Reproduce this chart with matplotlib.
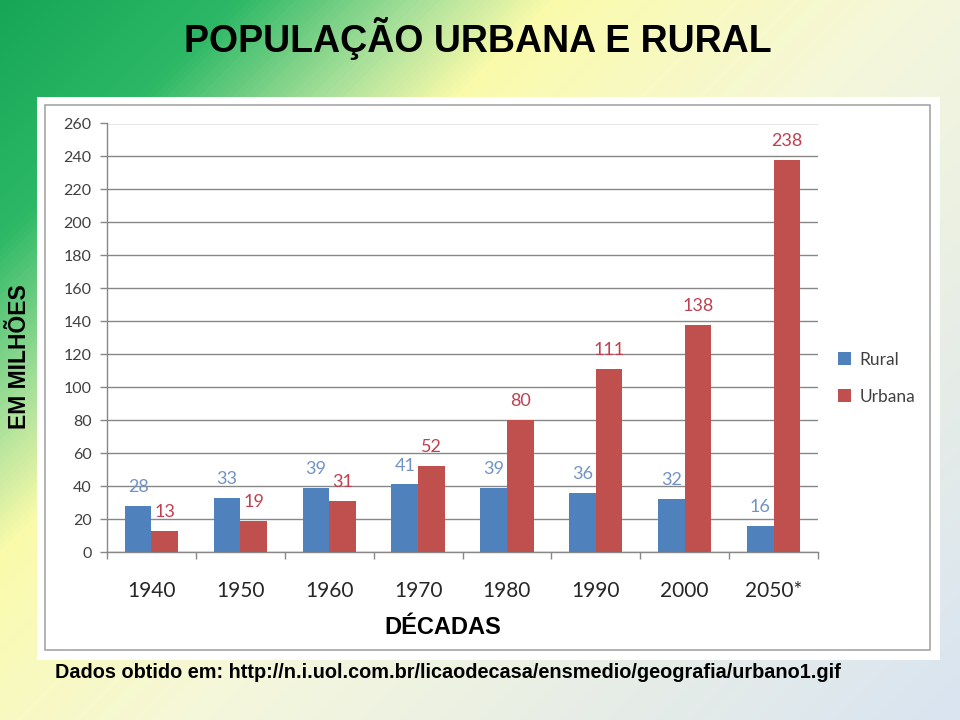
import numpy as np
import matplotlib
matplotlib.use('Agg')
import matplotlib.pyplot as plt
from matplotlib.colors import LinearSegmentedColormap
from matplotlib.patches import Rectangle
from matplotlib import font_manager

decades = ['1940', '1950', '1960', '1970', '1980', '1990', '2000', '2050*']
rural = [28, 33, 39, 41, 39, 36, 32, 16]
urbana = [13, 19, 31, 52, 80, 111, 138, 238]
yticks = list(range(0, 261, 20))

names = {f.name for f in font_manager.fontManager.ttflist}
chart_font = 'Lato' if 'Lato' in names else 'DejaVu Sans'

plt.rcParams['font.family'] = [chart_font, 'DejaVu Sans']

W, H = 960, 720
fig = plt.figure(figsize=(9.6, 7.2), dpi=100)

# background gradient
bg = fig.add_axes([0, 0, 1, 1], zorder=-10)
yy, xx = np.mgrid[0:H, 0:W]
s = (xx + yy) / (W + H)
cmap = LinearSegmentedColormap.from_list('bg', [
    (0.0, '#16a656'), (0.14, '#2cb866'), (0.25, '#a8e09a'),
    (0.33, '#fbfbab'), (0.55, '#f5f7dc'), (1.0, '#d9e4f1')])
bg.imshow(s, cmap=cmap, extent=(0, W, H, 0), aspect='auto', interpolation='bilinear')
bg.set_xlim(0, W)
bg.set_ylim(H, 0)
bg.axis('off')
bg.add_patch(Rectangle((37, 97), 903, 563, fc='white', ec='none'))
bg.add_patch(Rectangle((45, 105), 885, 545, fill=False, ec='#a6a6a6', lw=1.2))

# main chart
ax = fig.add_axes([107 / W, 1 - 552 / H, 711 / W, (552 - 123.5) / H])
ax.patch.set_alpha(0)
x = np.arange(len(decades)) + 0.5
bw = 0.3
b1 = ax.bar(x - bw / 2, rural, bw, color='#4f81bd', label='Rural', zorder=3)
b2 = ax.bar(x + bw / 2, urbana, bw, color='#c0504d', label='Urbana', zorder=3)

for xi, v in zip(x - bw / 2, rural):
    ax.annotate(str(v), (xi, v), xytext=(0, 10), textcoords='offset points',
                ha='center', va='baseline', fontsize=13, color='#7093c6')
for xi, v in zip(x + bw / 2, urbana):
    ax.annotate(str(v), (xi, v), xytext=(0, 10), textcoords='offset points',
                ha='center', va='baseline', fontsize=13, color='#c0404f')

ax.set_ylim(0, 260)
ax.set_yticks(yticks)
ax.set_xlim(0, len(decades))
ax.set_xticks(range(len(decades) + 1))
ax.set_xticklabels([])
ax.set_xticks(x, minor=True)
ax.set_xticklabels(decades, minor=True)
ax.yaxis.grid(True, color='#878787', lw=1.0)
ax.set_axisbelow(True)
for sp in ['top', 'right']:
    ax.spines[sp].set_visible(False)
for sp in ['left', 'bottom']:
    ax.spines[sp].set_color('#878787')
    ax.spines[sp].set_linewidth(1.0)
ax.tick_params(axis='x', which='minor', length=0, pad=21, labelsize=15, labelcolor='#262626')
ax.tick_params(axis='x', which='major', length=5, width=1, color='#878787')
ax.tick_params(axis='y', length=5, width=1, color='#878787', pad=6, labelsize=11.5, labelcolor='#404040')

ax.legend(handles=[b1, b2], loc='upper left', bbox_to_anchor=(829 / W, 1 - 343 / H),
          bbox_transform=fig.transFigure, frameon=False, handlelength=0.75, handleheight=0.75,
          fontsize=12.5, labelspacing=1.2, handletextpad=0.5, borderpad=0, labelcolor='#404040')

# texts
fig.text(478 / W, 1 - 38 / H, 'POPULAÇÃO URBANA E RURAL', ha='center', va='center',
         fontsize=27, weight='bold', family=['Liberation Sans', 'DejaVu Sans'], color='black')
fig.text(20 / W, 1 - 357 / H, 'EM MILHÕES', rotation=90, ha='center', va='center',
         fontsize=16.5, weight='bold', family=['Liberation Sans', 'DejaVu Sans'], color='black')
fig.text(443 / W, 1 - 627 / H, 'DÉCADAS', ha='center', va='center',
         fontsize=17, weight='bold', family=['Liberation Sans', 'DejaVu Sans'], color='black')
fig.text(55 / W, 1 - 672 / H,
         'Dados obtido em: http://n.i.uol.com.br/licaodecasa/ensmedio/geografia/urbano1.gif',
         ha='left', va='center', fontsize=14.3, weight='bold',
         family=['Liberation Sans', 'DejaVu Sans'], color='black')

fig.savefig('out.png', dpi=100)
